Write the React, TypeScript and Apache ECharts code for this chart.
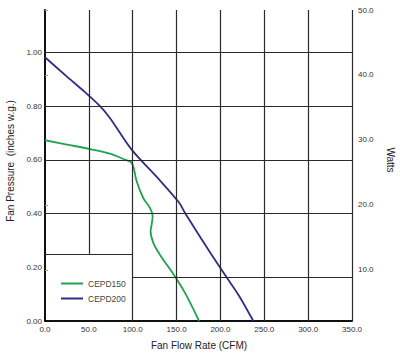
import React, { useEffect, useRef } from "react";
import * as echarts from "echarts";

// Flow rate (CFM) vs. static pressure (inches w.g.)
const cepd150: [number, number][] = [
  [0, 0.673], [25, 0.657], [50, 0.641], [74, 0.623], [91, 0.601], [98.8, 0.589],
  [101.5, 0.564], [104.5, 0.52], [112, 0.458], [119.7, 0.421], [122.7, 0.39],
  [121.6, 0.359], [120.4, 0.334], [123.5, 0.291], [131, 0.247], [147.4, 0.169],
  [160.7, 0.098], [175.6, 0],
];
const cepd200: [number, number][] = [
  [0, 0.982], [25, 0.91], [45.6, 0.852], [62.7, 0.8], [74, 0.756], [98.8, 0.638],
  [130, 0.527], [152.8, 0.441], [160, 0.4],
  [189, 0.251], [207, 0.163], [221, 0.095], [237.5, 0],
];
const seriesNames = ["CEPD150", "CEPD200"];
const xTicks = [0, 50, 100, 150, 200, 250, 300, 350];
const pressureTicks = [0, 0.2, 0.4, 0.6, 0.8, 1.0];
const wattTicks = [10, 20, 30, 40, 50];
// grid segments: [x1, y1, x2, y2] in data units
const gridSegments: [number, number, number, number][] = [
  [0, 1.0, 350, 1.0], [0, 0.8, 350, 0.8], [0, 0.6, 350, 0.6], [0, 0.4, 350, 0.4],
  [0, 0.25, 100, 0.25], [100, 0.163, 350, 0.163],
  [50, 0.25, 50, 1.158], [100, 0, 100, 1.158], [150, 0, 150, 1.158], [200, 0, 200, 1.158],
  [250, 0, 250, 1.158], [300, 0, 300, 1.158], [350, 0, 350, 1.158],
];

const FONT = "Liberation Sans, Arial, sans-serif";

export default function App() {
  const ref = useRef<HTMLDivElement>(null);
  useEffect(() => {
    if (!ref.current) return;
    const chart = echarts.init(ref.current, undefined, { renderer: "svg" });
    chart.setOption({
      animation: false,
      backgroundColor: "#ffffff",
      grid: { left: 45, right: 48, top: 10, bottom: 33, containLabel: false },
      legend: {
        data: seriesNames,
        orient: "vertical",
        left: 56,
        top: 274,
        itemWidth: 22,
        itemHeight: 2,
        itemGap: 6,
        icon: "rect",
        textStyle: { fontFamily: FONT, fontSize: 8.5, color: "#444" },
      },
      xAxis: {
        type: "value",
        min: 0,
        max: 350,
        interval: 50,
        axisLine: { show: true, lineStyle: { color: "#111", width: 2 } },
        axisTick: { show: false },
        splitLine: { show: false },
        axisLabel: {
          customValues: xTicks,
          formatter: (v: number) => v.toFixed(1),
          fontFamily: FONT,
          fontSize: 8,
          color: "#333",
          margin: 4,
        },
      },
      yAxis: [
        {
          type: "value",
          min: 0,
          max: 1.158,
          axisLine: { show: true, onZero: false, lineStyle: { color: "#111", width: 2 } },
          axisTick: { show: false },
          splitLine: { show: false },
          axisLabel: {
            customValues: pressureTicks,
            formatter: (v: number) => v.toFixed(2),
            fontFamily: FONT,
            fontSize: 8,
            color: "#333",
            margin: 3,
          },
        },
        {
          type: "value",
          position: "right",
          min: 2.15,
          max: 50,
          axisLine: { show: false },
          axisTick: { show: true, customValues: wattTicks, length: 3, lineStyle: { color: "#999" } },
          splitLine: { show: false },
          axisLabel: {
            customValues: wattTicks,
            formatter: (v: number) => v.toFixed(1),
            fontFamily: FONT,
            fontSize: 8,
            color: "#333",
            margin: 6,
          },
        },
      ],
      series: [
        {
          name: "grid",
          type: "line",
          data: [[0, 0]],
          symbol: "none",
          lineStyle: { opacity: 0 },
          silent: true,
          z: 1,
          markLine: {
            silent: true,
            symbol: "none",
            label: { show: false },
            lineStyle: { color: "#2a2a2a", width: 1.2, type: "solid" },
            data: gridSegments.map(([x1, y1, x2, y2]) => [
              { coord: [x1, y1] },
              { coord: [x2, y2] },
            ]),
          },
        },
        {
          name: seriesNames[0],
          type: "line",
          data: cepd150,
          smooth: 0.35,
          symbol: "none",
          z: 3,
          itemStyle: { color: "#1fa34e" },
          lineStyle: { color: "#1fa34e", width: 1.8 },
        },
        {
          name: seriesNames[1],
          type: "line",
          data: cepd200,
          smooth: 0.3,
          symbol: "none",
          z: 3,
          itemStyle: { color: "#2e2f86" },
          lineStyle: { color: "#2e2f86", width: 1.8 },
        },
      ],
      graphic: [
        {
          type: "text",
          x: 10,
          y: 161,
          rotation: Math.PI / 2,
          style: {
            text: "Fan Pressure  (inches w.g.)",
            fontFamily: FONT,
            fontSize: 10,
            fill: "#222",
            textAlign: "center",
            textVerticalAlign: "middle",
          },
        },
        {
          type: "text",
          x: 390,
          y: 160,
          rotation: -Math.PI / 2,
          style: {
            text: "Watts",
            fontFamily: FONT,
            fontSize: 10,
            fill: "#222",
            textAlign: "center",
            textVerticalAlign: "middle",
          },
        },
        {
          type: "text",
          x: 199,
          y: 345,
          style: {
            text: "Fan Flow Rate (CFM)",
            fontFamily: FONT,
            fontSize: 10,
            fill: "#222",
            textAlign: "center",
            textVerticalAlign: "middle",
          },
        },
      ],
    });
    return () => chart.dispose();
  }, []);
  return <div ref={ref} style={{ width: 400, height: 354, position: "absolute", left: 0, top: 0 }} />;
}
